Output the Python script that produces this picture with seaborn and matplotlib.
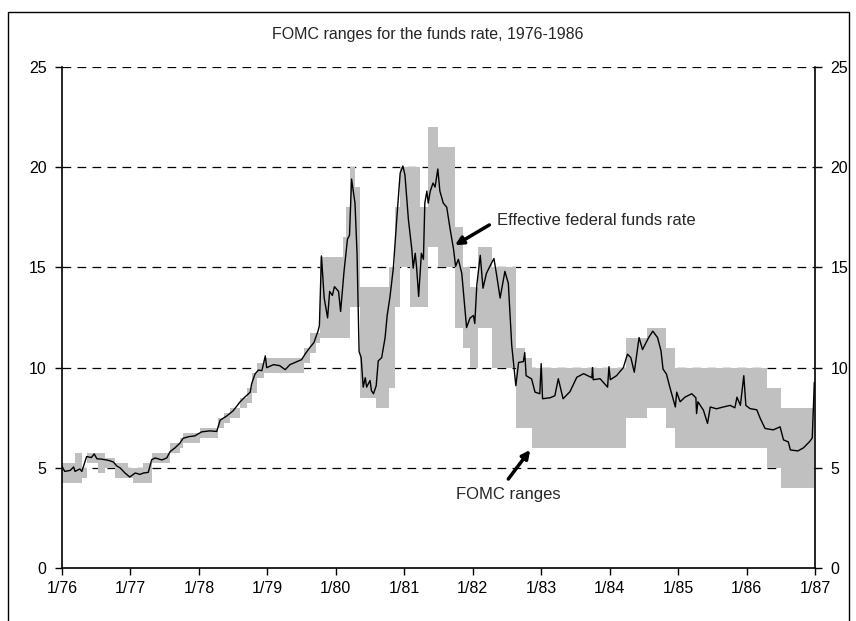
import numpy as np
import pandas as pd
import matplotlib
matplotlib.use("Agg")
import matplotlib.pyplot as plt
from matplotlib.patches import Rectangle
import seaborn as sns

# ---------------- data ----------------
# Effective federal funds rate (decimal year, percent)
rate_t = [1976.00, 1976.04, 1976.12, 1976.17, 1976.19, 1976.26, 1976.29, 1976.36, 1976.43, 1976.47,
          1976.51, 1976.58, 1976.68, 1976.75, 1976.80, 1976.85, 1976.92, 1976.99, 1977.07, 1977.14,
          1977.19, 1977.26, 1977.31, 1977.36, 1977.46, 1977.53, 1977.58, 1977.65, 1977.72, 1977.77,
          1977.85, 1977.94, 1978.04, 1978.16, 1978.26, 1978.31, 1978.41, 1978.50, 1978.60, 1978.67,
          1978.75, 1978.77, 1978.82, 1978.87, 1978.92, 1978.97, 1978.99, 1979.09, 1979.18, 1979.26,
          1979.33, 1979.43, 1979.50, 1979.55, 1979.62, 1979.68, 1979.74, 1979.76, 1979.79, 1979.83,
          1979.88, 1979.91, 1979.95, 1979.98, 1980.04, 1980.07, 1980.12, 1980.17, 1980.20, 1980.23,
          1980.28, 1980.31, 1980.34, 1980.37, 1980.40, 1980.43, 1980.45, 1980.50, 1980.52, 1980.55,
          1980.59, 1980.62, 1980.67, 1980.72, 1980.75, 1980.79, 1980.84, 1980.89, 1980.94, 1980.98,
          1981.01, 1981.06, 1981.11, 1981.13, 1981.16, 1981.18, 1981.21, 1981.25, 1981.28, 1981.30,
          1981.33, 1981.35, 1981.38, 1981.42, 1981.45, 1981.49, 1981.52, 1981.57, 1981.62, 1981.67,
          1981.72, 1981.75, 1981.79, 1981.84, 1981.89, 1981.91, 1981.96, 1982.01, 1982.03, 1982.06,
          1982.11, 1982.15, 1982.20, 1982.25, 1982.31, 1982.35, 1982.40, 1982.47, 1982.52, 1982.57,
          1982.63, 1982.67, 1982.74, 1982.76, 1982.78, 1982.86, 1982.91, 1982.98, 1983.00, 1983.02,
          1983.13, 1983.20, 1983.25, 1983.32, 1983.42, 1983.52, 1983.62, 1983.74, 1983.75, 1983.76,
          1983.86, 1983.97, 1983.99, 1984.01, 1984.10, 1984.20, 1984.26, 1984.31, 1984.36, 1984.43,
          1984.48, 1984.57, 1984.63, 1984.70, 1984.75, 1984.78, 1984.83, 1984.88, 1984.96, 1984.98,
          1985.03, 1985.10, 1985.20, 1985.26, 1985.27, 1985.29, 1985.37, 1985.43, 1985.47, 1985.56,
          1985.66, 1985.76, 1985.83, 1985.86, 1985.91, 1985.96, 1985.99, 1986.05, 1986.15, 1986.20,
          1986.27, 1986.39, 1986.49, 1986.54, 1986.61, 1986.64, 1986.75, 1986.83, 1986.92, 1986.96,
          1986.99]
rate_v = [5.08, 4.83, 4.88, 5.05, 4.83, 4.95, 4.83, 5.57, 5.52, 5.70,
          5.46, 5.44, 5.38, 5.30, 5.10, 5.00, 4.75, 4.55, 4.75, 4.68,
          4.75, 4.78, 5.41, 5.50, 5.40, 5.50, 5.82, 6.00, 6.23, 6.48,
          6.56, 6.60, 6.80, 6.85, 6.82, 7.38, 7.60, 7.85, 8.29, 8.53,
          8.78, 9.19, 9.69, 9.88, 9.85, 10.59, 10.00, 10.15, 10.10, 9.90,
          10.15, 10.30, 10.40, 10.67, 11.00, 11.25, 11.82, 12.09, 15.57, 13.47,
          12.48, 13.80, 13.60, 14.04, 13.80, 12.80, 14.80, 16.40, 16.60, 19.40,
          18.20, 15.70, 10.80, 10.50, 9.03, 9.50, 9.03, 9.36, 8.86, 8.70,
          9.10, 10.34, 10.50, 11.50, 12.60, 13.50, 14.95, 17.40, 19.70, 20.05,
          19.60, 17.40, 15.90, 14.96, 15.70, 15.00, 13.55, 15.70, 15.40, 18.20,
          18.80, 18.20, 18.80, 19.20, 19.00, 19.90, 18.80, 18.20, 18.00, 16.90,
          15.90, 15.05, 15.40, 14.70, 12.80, 12.00, 12.47, 12.60, 12.20, 14.13,
          15.60, 13.96, 14.70, 15.05, 15.44, 14.60, 13.47, 14.80, 14.20, 11.10,
          9.10, 10.26, 10.30, 10.75, 9.60, 9.44, 8.78, 8.70, 10.20, 8.45,
          8.50, 8.60, 9.45, 8.45, 8.80, 9.52, 9.70, 9.50, 10.00, 9.40,
          9.45, 9.03, 10.05, 9.40, 9.60, 10.00, 10.67, 10.50, 9.77, 11.50,
          10.90, 11.50, 11.82, 11.50, 10.84, 9.93, 9.68, 9.02, 8.04, 8.78,
          8.30, 8.53, 8.70, 8.50, 7.71, 8.30, 7.88, 7.22, 8.04, 7.95,
          8.04, 8.12, 8.00, 8.53, 8.12, 9.60, 8.12, 7.96, 7.90, 7.47,
          6.97, 6.90, 7.05, 6.40, 6.30, 5.90, 5.85, 6.00, 6.31, 6.50,
          9.27]

# FOMC ranges: start of each range (decimal year), lower and upper bound (percent)
band_start = [1976.00, 1976.19, 1976.29, 1976.36, 1976.53, 1976.63, 1976.77, 1976.97, 1977.04, 1977.19,
              1977.31, 1977.58, 1977.72, 1977.77, 1978.02, 1978.28, 1978.36, 1978.45, 1978.60, 1978.70,
              1978.77, 1978.85, 1978.95, 1979.53, 1979.62, 1979.71, 1979.77, 1980.11, 1980.15, 1980.21,
              1980.28, 1980.35, 1980.59, 1980.77, 1980.86, 1980.94, 1981.08, 1981.23, 1981.35, 1981.50,
              1981.74, 1981.86, 1981.96, 1982.08, 1982.28, 1982.63, 1982.76, 1982.86, 1984.24, 1984.54,
              1984.83, 1984.96, 1986.30, 1986.50]
band_end = 1986.98
band_low = [4.25, 4.25, 4.50, 5.25, 4.75, 5.00, 4.50, 4.50, 4.25, 4.25,
            5.25, 5.75, 6.00, 6.25, 6.50, 7.00, 7.25, 7.50, 8.00, 8.25,
            8.75, 9.50, 9.75, 10.25, 10.75, 11.25, 11.50, 11.50, 11.50, 13.00,
            13.00, 8.50, 8.00, 9.00, 13.00, 15.00, 13.00, 13.00, 16.00, 15.00,
            12.00, 11.00, 10.00, 12.00, 10.00, 7.00, 7.00, 6.00, 7.50, 8.00,
            7.00, 6.00, 5.00, 4.00]
band_high = [5.25, 5.75, 5.00, 5.75, 5.75, 5.50, 5.25, 5.00, 5.00, 5.25,
             5.75, 6.25, 6.50, 6.75, 7.00, 7.50, 7.75, 8.00, 8.50, 9.00,
             9.75, 10.25, 10.50, 11.00, 11.75, 11.75, 15.50, 16.50, 18.00, 20.00,
             19.00, 14.00, 14.00, 15.00, 18.00, 20.00, 20.00, 18.00, 22.00, 21.00,
             17.00, 15.00, 14.00, 16.00, 15.00, 11.00, 10.50, 10.00, 11.50, 12.00,
             11.00, 10.00, 9.00, 8.00]

year_ticks = list(range(1976, 1988))
year_labels = ["1/76", "1/77", "1/78", "1/79", "1/80", "1/81", "1/82", "1/83", "1/84", "1/85", "1/86", "1/87"]
y_ticks = [0, 5, 10, 15, 20, 25]

# ---------------- plot ----------------
sns.set_style("white")
plt.rcParams["font.family"] = ["Liberation Sans", "DejaVu Sans"]

fig = plt.figure(figsize=(8.56, 6.21), dpi=100)
ax = fig.add_axes([62 / 856, 1 - 568.3 / 621, (815 - 62) / 856, (568.3 - 66.7) / 621])

# FOMC ranges as step bands
bx = band_start + [band_end]
blo = band_low + [band_low[-1]]
bhi = band_high + [band_high[-1]]
ax.fill_between(bx, blo, bhi, step="post", color="#c0c0c0", linewidth=0, zorder=1)

# dashed grid
for yv in y_ticks[1:]:
    ax.axhline(yv, color="black", lw=0.9, ls=(0, (7, 5)), zorder=0.5)

df = pd.DataFrame({"t": rate_t, "rate": rate_v})
sns.lineplot(data=df, x="t", y="rate", ax=ax, color="black", lw=1.0, zorder=3, estimator=None, sort=True)

ax.set_xlim(1976, 1987)
ax.set_ylim(0, 25)
ax.set_xticks(year_ticks)
ax.set_xticklabels(year_labels)
ax.set_yticks(y_ticks)
ax.set_yticklabels([str(v) for v in y_ticks])
ax.set_xlabel("")
ax.set_ylabel("")
ax.tick_params(axis="both", direction="out", length=5, width=1, colors="black", labelsize=11.5)
ax.tick_params(axis="y", left=True, right=True, labelleft=True, labelright=True, pad=6)
ax.tick_params(axis="x", bottom=True, pad=4)

for side in ["left", "right", "bottom"]:
    ax.spines[side].set_visible(True)
    ax.spines[side].set_color("black")
    ax.spines[side].set_linewidth(1.2)
ax.spines["top"].set_visible(False)

# annotations
ax.annotate("Effective federal funds rate", xy=(1981.74, 16.1), xytext=(1982.36, 17.35),
            fontsize=12, va="center", ha="left",
            arrowprops=dict(arrowstyle="-|>", color="black", lw=2.5, mutation_scale=12,
                            relpos=(0, 0.5), shrinkA=4, shrinkB=0))
ax.annotate("", xy=(1982.84, 5.9), xytext=(1982.52, 4.45),
            arrowprops=dict(arrowstyle="-|>", color="black", lw=2.5, mutation_scale=12,
                            shrinkA=0, shrinkB=0))
ax.text(1982.52, 3.7, "FOMC ranges", fontsize=12, ha="center", va="center")

fig.text(428 / 856, 1 - 35 / 621, "FOMC ranges for the funds rate, 1976-1986",
         ha="center", va="center", fontsize=11.5)

fig.add_artist(Rectangle((8 / 856, -0.02), (849 - 8) / 856, 1.02 - 12 / 621,
                         transform=fig.transFigure, fill=False, edgecolor="black", lw=1.0))

fig.savefig("out.png", dpi=100)
